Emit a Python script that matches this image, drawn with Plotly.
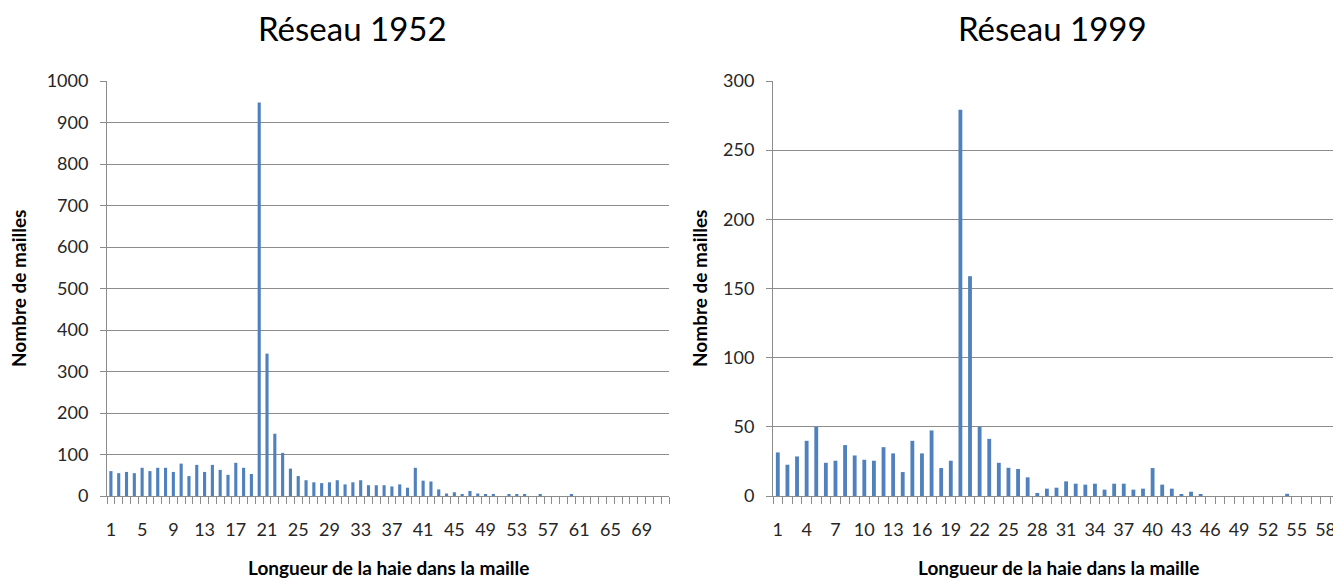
import plotly.graph_objects as go

# ---- data ----
lengths_1952 = list(range(1, 73))
counts_1952 = [60, 55, 58, 55, 68, 60, 68, 68, 58, 78,
               48, 75, 58, 75, 63, 51, 80, 68, 53, 948,
               343, 150, 104, 66, 48, 38, 33, 31, 33, 38,
               28, 33, 38, 26, 26, 26, 23, 28, 20, 68,
               37, 35, 16, 6, 9, 3, 12, 6, 3, 5,
               0, 3, 3, 5, 0, 3, 0, 0, 0, 3,
               0, 0, 0, 0, 0, 0, 0, 0, 0, 0, 0, 0]
ticks_1952 = list(range(1, 70, 4))

lengths_1999 = list(range(1, 60))
counts_1999 = [31.5, 22.6, 28.6, 39.9, 50, 24, 25.5, 36.8, 29.3, 26.2,
               25.5, 35.3, 30.8, 17.3, 39.9, 30.8, 47.4, 20.2, 25.5, 279.3,
               158.9, 50, 41.3, 24, 20.4, 19.5, 13.5, 2.2, 5.3, 6,
               10.6, 8.9, 8.2, 8.9, 4.6, 8.9, 8.9, 4.6, 5.3, 20.2,
               8.2, 5.3, 1.4, 3.1, 1.4, 0, 0, 0, 0, 0,
               0, 0, 0, 1.6, 0, 0, 0, 0, 0]
ticks_1999 = list(range(1, 59, 3))

titles = ["Réseau 1952", "Réseau 1999"]
y_title = "Nombre de mailles"
x_title = "Longueur de la haie dans la maille"

# ---- styling ----
OFF = 8  # default page body margin
W, H = 1341 - OFF, 578 - OFF
BAR = "#4f81bd"
GRID = "#8c8c8c"
FONT = "Lato, Open Sans, sans-serif"
TXT = "#262626"

def px_x(p):
    return (p - OFF) / W

def px_y(p):
    return 1 - (p - OFF) / H

fig = go.Figure()
fig.add_trace(go.Bar(x=lengths_1952, y=counts_1952, marker_color=BAR,
                     marker_line_width=0, xaxis="x", yaxis="y", showlegend=False))
fig.add_trace(go.Bar(x=lengths_1999, y=counts_1999, marker_color=BAR,
                     marker_line_width=0, xaxis="x2", yaxis="y2", showlegend=False))

ydom = [px_y(496), px_y(81)]

def xaxis(dom, n, tv, anchor):
    return dict(domain=dom, anchor=anchor, range=[0.5, n + 0.5],
                automargin=False,
                tickmode="array", tickvals=tv, ticktext=[str(v) for v in tv],
                ticks="", showgrid=False, zeroline=False,
                showline=True, linecolor=GRID, linewidth=1,
                tickfont=dict(family=FONT, size=18, color=TXT),
                ticklabelstandoff=17,
                minor=dict(ticks="outside", ticklen=7, tickcolor=GRID,
                           tick0=0.5, dtick=1, showgrid=False))

def yaxis(dom, rng, dt, anchor):
    return dict(domain=dom, anchor=anchor, range=rng, dtick=dt,
                automargin=False,
                ticks="outside", ticklen=6, tickcolor=GRID,
                showgrid=True, gridcolor=GRID, gridwidth=1,
                zeroline=False, showline=True, linecolor=GRID, linewidth=1,
                tickfont=dict(family=FONT, size=18, color=TXT),
                ticklabelstandoff=8)

fig.update_layout(
    width=W, height=H,
    margin=dict(l=0, r=0, t=0, b=0, autoexpand=False),
    paper_bgcolor="white", plot_bgcolor="white",
    bargap=0.6,
    xaxis=xaxis([px_x(107), px_x(669)], 72, ticks_1952, "y"),
    yaxis=yaxis(ydom, [0, 1000], 100, "x"),
    xaxis2=xaxis([px_x(773), px_x(1340)], 59, ticks_1999, "y2"),
    yaxis2=yaxis(ydom, [0, 300], 50, "x2"),
)

ann = []
for t, cx in zip(titles, [352, 1052]):
    ann.append(dict(text=t, x=px_x(cx), y=px_y(28), xref="paper", yref="paper",
                    showarrow=False, xanchor="center", yanchor="middle",
                    font=dict(family=FONT, size=33, color="#000000")))
for cx in [388, 1058]:
    ann.append(dict(text="<b>" + x_title + "</b>", x=px_x(cx), y=px_y(567),
                    xref="paper", yref="paper", showarrow=False,
                    xanchor="center", yanchor="middle",
                    font=dict(family=FONT, size=19, color="#000000")))
for cx in [18, 699]:
    ann.append(dict(text="<b>" + y_title + "</b>", x=px_x(cx), y=px_y(289),
                    xref="paper", yref="paper", showarrow=False, textangle=-90,
                    xanchor="center", yanchor="middle",
                    font=dict(family=FONT, size=19, color="#000000")))
fig.update_layout(annotations=ann)

fig.write_html("out.html")
